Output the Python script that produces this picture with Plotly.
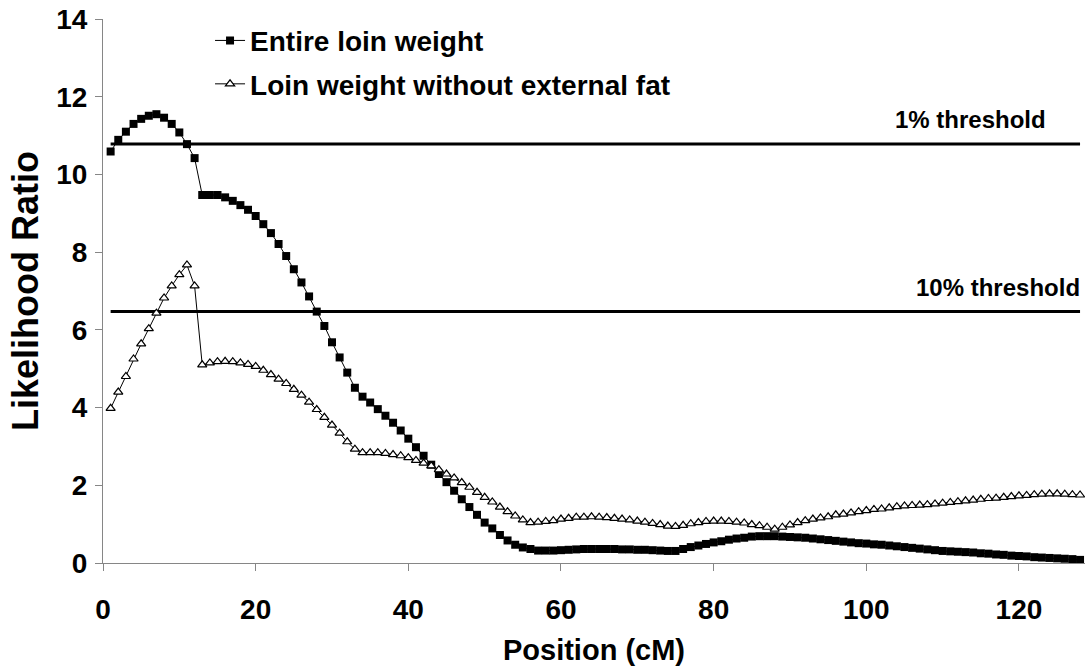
import plotly.graph_objects as go

# Map positions along the chromosome (cM)
position = list(range(1, 129))

# Likelihood ratio profile: entire loin weight
entire_loin = [
    10.59, 10.89, 11.10, 11.30, 11.43, 11.51, 11.55, 11.46, 11.30, 11.08,
    10.78, 10.42, 9.47, 9.47, 9.47, 9.41, 9.32, 9.21, 9.09, 8.93,
    8.72, 8.49, 8.21, 7.90, 7.56, 7.22, 6.86, 6.47, 6.10, 5.68,
    5.29, 4.90, 4.51, 4.28, 4.13, 3.96, 3.79, 3.61, 3.41, 3.20,
    2.98, 2.76, 2.53, 2.29, 2.08, 1.86, 1.64, 1.44, 1.24, 1.04,
    0.89, 0.72, 0.58, 0.47, 0.40, 0.36, 0.32, 0.32, 0.32, 0.33,
    0.34, 0.35, 0.36, 0.36, 0.36, 0.36, 0.36, 0.35, 0.35, 0.34,
    0.34, 0.33, 0.32, 0.31, 0.31, 0.36, 0.41, 0.45, 0.49, 0.53,
    0.56, 0.60, 0.63, 0.65, 0.68, 0.69, 0.69, 0.69, 0.68, 0.67,
    0.66, 0.65, 0.63, 0.61, 0.59, 0.57, 0.55, 0.53, 0.51, 0.50,
    0.48, 0.47, 0.45, 0.43, 0.41, 0.39, 0.37, 0.35, 0.33, 0.31,
    0.30, 0.29, 0.28, 0.27, 0.25, 0.24, 0.22, 0.21, 0.19, 0.18,
    0.17, 0.15, 0.14, 0.13, 0.12, 0.11, 0.10, 0.08,
]

# Likelihood ratio profile: loin weight without external fat
loin_no_fat = [
    3.98, 4.40, 4.80, 5.25, 5.64, 6.03, 6.43, 6.82, 7.13, 7.42,
    7.67, 7.13, 5.10, 5.15, 5.18, 5.19, 5.18, 5.15, 5.11, 5.06,
    4.96, 4.85, 4.73, 4.62, 4.47, 4.32, 4.14, 3.95, 3.75, 3.55,
    3.34, 3.12, 2.93, 2.84, 2.84, 2.84, 2.82, 2.79, 2.76, 2.71,
    2.64, 2.57, 2.50, 2.40, 2.29, 2.19, 2.07, 1.95, 1.82, 1.69,
    1.57, 1.44, 1.32, 1.21, 1.11, 1.04, 1.05, 1.07, 1.09, 1.13,
    1.15, 1.18, 1.18, 1.19, 1.18, 1.17, 1.15, 1.13, 1.11, 1.08,
    1.05, 1.02, 0.99, 0.95, 0.94, 0.97, 1.01, 1.04, 1.07, 1.08,
    1.08, 1.07, 1.05, 1.03, 0.99, 0.96, 0.92, 0.87, 0.92, 0.98,
    1.04, 1.09, 1.13, 1.16, 1.19, 1.24, 1.26, 1.29, 1.32, 1.35,
    1.38, 1.39, 1.42, 1.45, 1.47, 1.48, 1.49, 1.50, 1.52, 1.54,
    1.56, 1.58, 1.60, 1.62, 1.64, 1.66, 1.67, 1.69, 1.71, 1.73,
    1.74, 1.76, 1.77, 1.78, 1.78, 1.77, 1.76, 1.75,
]

# Significance thresholds
threshold_names = ["1% threshold", "10% threshold"]
threshold_values = [10.78, 6.47]
threshold_label_x = [113.6, 117.2]

x_ticks = [0, 20, 40, 60, 80, 100, 120]
y_ticks = [0, 2, 4, 6, 8, 10, 12, 14]

FONT = "Liberation Sans, Arial, sans-serif"
AXIS_GREY = "#868686"

fig = go.Figure()

for name, val in zip(threshold_names, threshold_values):
    fig.add_trace(go.Scatter(
        x=[position[0], position[-1]], y=[val, val], mode="lines",
        line=dict(color="black", width=3), showlegend=False, hoverinfo="skip",
    ))

fig.add_trace(go.Scatter(
    x=position, y=entire_loin, mode="lines+markers",
    name="<b>Entire loin weight</b>", legendgroup="a",
    line=dict(color="black", width=1),
    marker=dict(symbol="square", size=8, color="black", line=dict(width=0)),
))
fig.add_trace(go.Scatter(
    x=position, y=loin_no_fat, mode="lines+markers",
    name="<b>Loin weight without external fat</b>", legendgroup="b",
    line=dict(color="black", width=1),
    marker=dict(symbol="triangle-up", size=8, color="white",
                line=dict(color="black", width=1.2)),
))

for name, val, lx in zip(threshold_names, threshold_values, threshold_label_x):
    fig.add_annotation(
        x=lx, y=val, text=f"<b>{name}</b>", showarrow=False,
        yanchor="bottom", yshift=9,
        font=dict(family=FONT, size=24, color="black"),
    )

fig.update_layout(
    width=1085, height=670,
    margin=dict(l=103, r=0, t=19, b=107),
    paper_bgcolor="white", plot_bgcolor="white",
    font=dict(family=FONT, color="black"),
    legend=dict(
        x=0.109, y=1.006, xanchor="left", yanchor="top",
        bgcolor="rgba(0,0,0,0)", font=dict(family=FONT, size=28, color="black"),
        traceorder="grouped", tracegroupgap=4, itemwidth=30,
    ),
    xaxis=dict(
        range=[0, 128.65], tickvals=x_ticks, ticktext=[f"<b>{v}</b>" for v in x_ticks],
        showgrid=False, zeroline=False, showline=True, linecolor=AXIS_GREY, linewidth=1,
        ticks="outside", ticklen=7, tickcolor=AXIS_GREY, tickwidth=1,
        tickfont=dict(family=FONT, size=28, color="black"), ticklabelstandoff=14,
        title=dict(text="<b>Position (cM)</b>", font=dict(family=FONT, size=29, color="black"),
                   standoff=16),
    ),
    yaxis=dict(
        range=[0, 14], tickvals=y_ticks, ticktext=[f"<b>{v}</b>" for v in y_ticks],
        showgrid=False, zeroline=False, showline=True, linecolor=AXIS_GREY, linewidth=1,
        ticks="outside", ticklen=7, tickcolor=AXIS_GREY, tickwidth=1,
        tickfont=dict(family=FONT, size=28, color="black"), ticklabelstandoff=2,
        title=dict(text="<b>Likelihood Ratio</b>", font=dict(family=FONT, size=36, color="black"),
                   standoff=6),
    ),
)

fig.write_html("out.html")
